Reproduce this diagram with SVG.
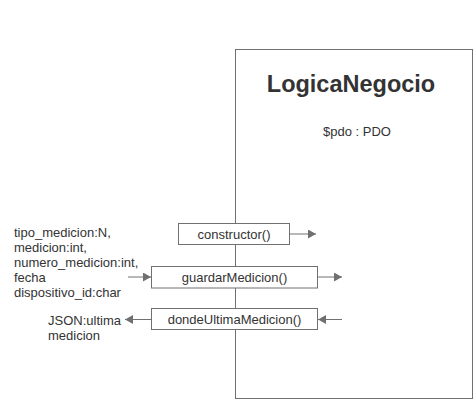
<svg xmlns="http://www.w3.org/2000/svg" width="474" height="400" viewBox="0 0 474 400">
  <style>
    .box { fill: #ffffff; stroke: #707070; stroke-width: 1; }
    .conn { stroke: #707070; stroke-width: 1; fill: none; marker-end: url(#arrow); }
    .t { font-family: "Liberation Sans", Arial, sans-serif; font-size: 13px; fill: #333333; }
    .c { text-anchor: middle; }
    .title { font-family: "Liberation Sans", Arial, sans-serif; font-size: 23.5px; font-weight: bold; fill: #333333; text-anchor: middle; }
  </style>
  <defs>
    <marker id="arrow" markerUnits="userSpaceOnUse" markerWidth="10" markerHeight="10" refX="8" refY="4.5" orient="auto">
      <path d="M0,0 L8,4.5 L0,9 Z" fill="#707070"/>
    </marker>
  </defs>
  <rect width="474" height="400" fill="#ffffff"/>

  <g id="LogicaNegocio">
    <rect class="box" x="235.5" y="49.5" width="237" height="349"/>
    <text class="title" x="351" y="91.5">LogicaNegocio</text>
    <text class="t c" x="357" y="136">$pdo : PDO</text>
  </g>

  <g id="connectors">
    <line class="conn" x1="289.5" y1="234" x2="316" y2="234"/>
    <line class="conn" x1="128" y1="277" x2="151" y2="277"/>
    <line class="conn" x1="317.5" y1="277" x2="342" y2="277"/>
    <line class="conn" x1="151.5" y1="319.5" x2="125" y2="319.5"/>
    <line class="conn" x1="342" y1="319.5" x2="318" y2="319.5"/>
  </g>

  <g id="constructor">
    <rect class="box" x="178.5" y="223.5" width="111" height="21"/>
    <text class="t c" x="234" y="238.5">constructor()</text>
  </g>

  <g id="guardarMedicion">
    <rect class="box" x="151.5" y="266.5" width="166" height="21.5"/>
    <text class="t c" x="234.5" y="281.5">guardarMedicion()</text>
  </g>

  <g id="dondeUltimaMedicion">
    <rect class="box" x="151.5" y="308.5" width="166" height="21"/>
    <text class="t c" x="234.5" y="324">dondeUltimaMedicion()</text>
  </g>

  <g id="input-params">
    <text class="t" x="14" y="237">tipo_medicion:N,</text>
    <text class="t" x="14" y="252">medicion:int,</text>
    <text class="t" x="14" y="266.5">numero_medicion:int,</text>
    <text class="t" x="14" y="281.5">fecha</text>
    <text class="t" x="14" y="296.5">dispositivo_id:char</text>
  </g>

  <g id="output-json">
    <text class="t" x="48" y="325">JSON:ultima</text>
    <text class="t" x="48" y="340">medicion</text>
  </g>
</svg>
